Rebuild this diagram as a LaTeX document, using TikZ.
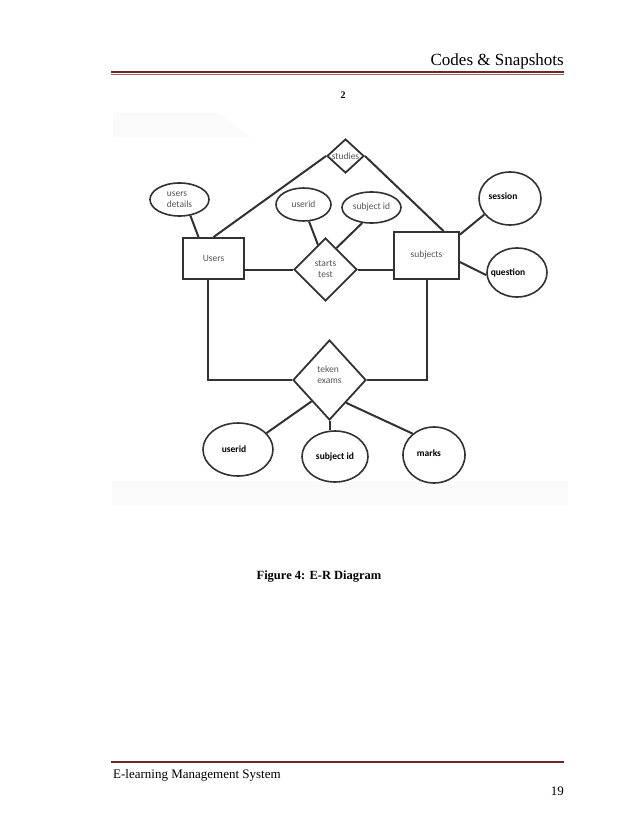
\documentclass[tikz,border=0pt]{standalone}
\usepackage{fontspec}
\setmainfont{Liberation Serif}
\newfontfamily\diagfont{Carlito}
\usetikzlibrary{shapes.geometric}
\definecolor{rulered}{RGB}{112,38,40}
\definecolor{ink}{RGB}{50,50,50}
\definecolor{inktext}{RGB}{85,85,85}

\begin{document}
\begin{tikzpicture}[
  x=1pt,y=-1pt,
  entity/.style={draw=ink,line width=1.8pt,rectangle,inner sep=0pt,
    font=\diagfont\fontsize{9.5}{11}\selectfont,text=inktext},
  attr/.style={draw=ink,line width=1.6pt,ellipse,inner sep=0pt,
    font=\diagfont\fontsize{9.5}{11}\selectfont,text=inktext,align=left},
  keyattr/.style={attr,font=\diagfont\bfseries\fontsize{9.5}{11}\selectfont,text=black},
  rel/.style={draw=ink,line width=1.8pt,diamond,inner sep=0pt},
  lbl/.style={font=\diagfont\fontsize{9.5}{11}\selectfont,text=inktext,align=left,inner sep=0pt},
  keylbl/.style={lbl,font=\diagfont\bfseries\fontsize{9.5}{11}\selectfont,text=black},
  link/.style={draw=ink,line width=2pt}
]
  \useasboundingbox[fill=white] (0,0) rectangle (638,826);

  % page header
  \node[anchor=base east,font=\fontsize{17}{20}\selectfont,inner sep=0pt] (hdr) at (564,66) {Codes \& Snapshots};
  \draw[rulered,line width=2.8pt] (111,72) -- (564,72);
  \draw[rulered!70,line width=.6pt] (111,74.6) -- (564,74.6);
  \node[anchor=base,font=\bfseries\fontsize{10}{12}\selectfont,inner sep=0pt] (fignum) at (343,99) {2};

  % faint scan background
  \fill[black!2] (113,113) -- (217,113) -- (250,137) -- (113,137) -- cycle;
  \fill[black!2] (112,481) rectangle (568,505);

  % relationships
  \node[rel,minimum width=37pt,minimum height=34pt,label={[lbl]center:studies}] (studies) at (345.5,156) {};
  \node[rel,minimum width=63pt,minimum height=63pt,label={[lbl,align=center]center:starts\\test}] (st) at (325.5,269.5) {};
  \node[rel,minimum width=73pt,minimum height=80pt,label={[lbl,yshift=5pt]center:teken\\exams}] (tk) at (329.5,380) {};

  % entities
  \node[entity,minimum width=61pt,minimum height=41pt] (Users) at (213.5,258.5) {Users};
  \node[entity,minimum width=65pt,minimum height=47pt] (subjects) at (426.5,255.5) {subjects};

  % attributes
  \node[attr,minimum width=59pt,minimum height=33pt] (ud) at (179.5,199.5) {users\\details};
  \node[attr,minimum width=55pt,minimum height=33pt] (tuid) at (303.5,204.5) {userid};
  \node[attr,minimum width=59pt,minimum height=31pt] (tsid) at (371.5,207.5) {subject id};
  \node[keyattr,minimum width=62pt,minimum height=53pt,
    label={[keylbl,xshift=-7pt,yshift=2pt]center:session}] (session) at (510,198.5) {};
  \node[keyattr,minimum width=60pt,minimum height=49pt,
    label={[keylbl,xshift=-9pt]center:question}] (question) at (517,272.5) {};
  \node[keyattr,minimum width=70pt,minimum height=53pt,
    label={[keylbl,xshift=-4pt]center:userid}] (buid) at (238,449.5) {};
  \node[keyattr,minimum width=66pt,minimum height=51pt] (bsid) at (335,456.5) {subject id};
  \node[keyattr,minimum width=62pt,minimum height=56pt,
    label={[keylbl,xshift=-5pt,yshift=2pt]center:marks}] (marks) at (434,455) {};

  % connectors
  \draw[link] (studies.west) -- (Users.north);
  \draw[link] (studies.east) -- (subjects.55);
  \draw[link] (ud.-56) -- (Users.125);
  \draw[link] (tuid.-72) -- (st.107);
  \draw[link] (tsid.-121) -- (st.63);
  \draw[link] (st.west) -- (st.west -| Users.east);
  \draw[link] (st.east) -- (st.east -| subjects.west);
  \draw[link] (subjects.32) -- (session.212);
  \draw[link] (subjects.-11) -- (question.185);
  \draw[link] (Users.-105) |- (tk.west);
  \draw[link] (subjects.south) |- (tk.east);
  \draw[link] (tk.-130) -- (buid.30);
  \draw[link] (tk.south) -- (tk.south |- bsid.north);
  \draw[link] (tk.-54) -- (marks.135);

  % caption
  \node[anchor=base,font=\bfseries\fontsize{12.5}{15}\selectfont,inner sep=0pt] (caption) at (319,579) {Figure 4: E-R Diagram};

  % page footer
  \draw[rulered,line width=2.6pt] (111,762) -- (564,762);
  \node[anchor=base west,font=\fontsize{13}{15}\selectfont,inner sep=0pt] (ftr) at (113,778) {E-learning Management System};
  \node[anchor=base east,font=\fontsize{13}{15}\selectfont,inner sep=0pt] (pageno) at (564,795) {19};
\end{tikzpicture}
\end{document}
